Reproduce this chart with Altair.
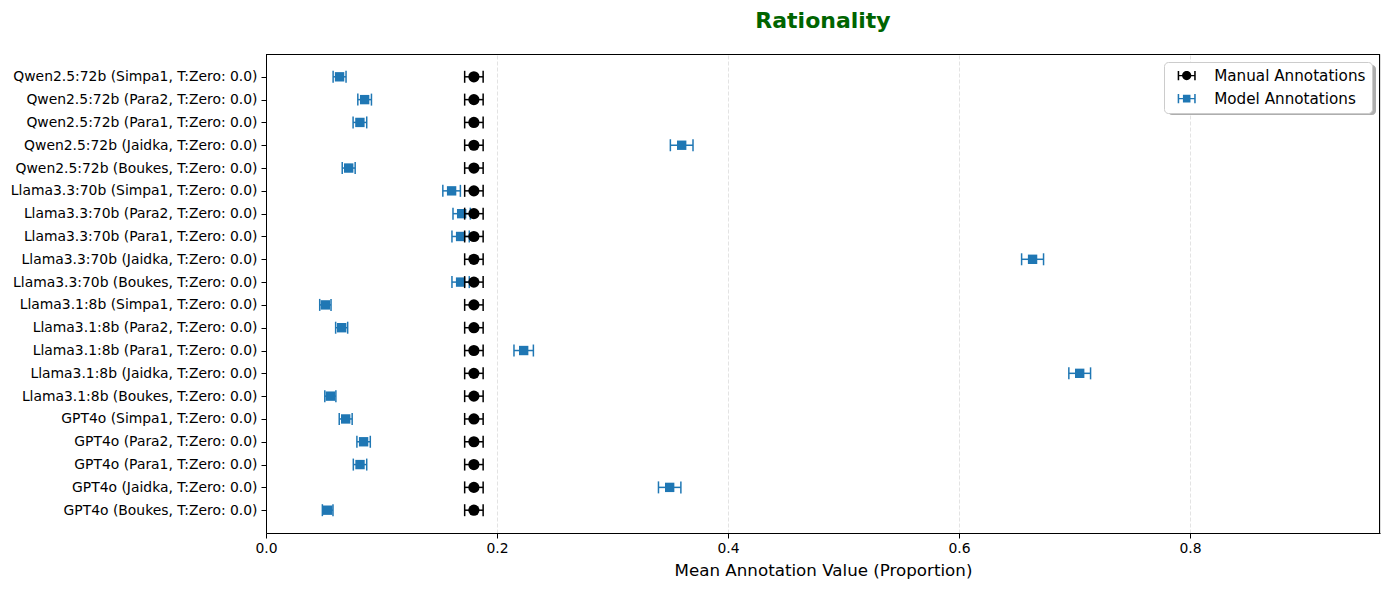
import altair as alt
import pandas as pd

labels = [
    "Qwen2.5:72b (Simpa1, T:Zero: 0.0)",
    "Qwen2.5:72b (Para2, T:Zero: 0.0)",
    "Qwen2.5:72b (Para1, T:Zero: 0.0)",
    "Qwen2.5:72b (Jaidka, T:Zero: 0.0)",
    "Qwen2.5:72b (Boukes, T:Zero: 0.0)",
    "Llama3.3:70b (Simpa1, T:Zero: 0.0)",
    "Llama3.3:70b (Para2, T:Zero: 0.0)",
    "Llama3.3:70b (Para1, T:Zero: 0.0)",
    "Llama3.3:70b (Jaidka, T:Zero: 0.0)",
    "Llama3.3:70b (Boukes, T:Zero: 0.0)",
    "Llama3.1:8b (Simpa1, T:Zero: 0.0)",
    "Llama3.1:8b (Para2, T:Zero: 0.0)",
    "Llama3.1:8b (Para1, T:Zero: 0.0)",
    "Llama3.1:8b (Jaidka, T:Zero: 0.0)",
    "Llama3.1:8b (Boukes, T:Zero: 0.0)",
    "GPT4o (Simpa1, T:Zero: 0.0)",
    "GPT4o (Para2, T:Zero: 0.0)",
    "GPT4o (Para1, T:Zero: 0.0)",
    "GPT4o (Jaidka, T:Zero: 0.0)",
    "GPT4o (Boukes, T:Zero: 0.0)",
]
model_mean = [0.0637, 0.0854, 0.0813, 0.3599, 0.0716,
              0.1607, 0.1694, 0.1685, 0.6637, 0.1685,
              0.0514, 0.0655, 0.2231, 0.7045, 0.0557,
              0.0690, 0.0845, 0.0814, 0.3495, 0.0534]
model_err = [0.0056, 0.0059, 0.0059, 0.0098, 0.0056,
             0.0076, 0.0075, 0.0075, 0.0095, 0.0075,
             0.0049, 0.0052, 0.0084, 0.0094, 0.0048,
             0.0056, 0.0058, 0.0058, 0.0097, 0.0046]
manual_mean = [0.18, 0.18, 0.18, 0.18, 0.18,
               0.18, 0.18, 0.18, 0.18, 0.18,
               0.18, 0.18, 0.18, 0.18, 0.18,
               0.18, 0.18, 0.18, 0.18, 0.18]
manual_err = [0.008, 0.008, 0.008, 0.008, 0.008,
              0.008, 0.008, 0.008, 0.008, 0.008,
              0.008, 0.008, 0.008, 0.008, 0.008,
              0.008, 0.008, 0.008, 0.008, 0.008]
series_names = ["Manual Annotations", "Model Annotations"]
series_colors = ["#000000", "#1f77b4"]
x_ticks = [0.0, 0.2, 0.4, 0.6, 0.8]

FONT = "DejaVu Sans"
BLUE = series_colors[1]
W, H = 1114, 479

model_df = pd.DataFrame({
    "label": labels,
    "mean": model_mean,
    "lo": [m - e for m, e in zip(model_mean, model_err)],
    "hi": [m + e for m, e in zip(model_mean, model_err)],
})
manual_df = pd.DataFrame({
    "label": labels,
    "mean": manual_mean,
    "lo": [m - e for m, e in zip(manual_mean, manual_err)],
    "hi": [m + e for m, e in zip(manual_mean, manual_err)],
})
legend_df = pd.DataFrame({"series": series_names, "mean": [manual_mean[0], manual_mean[0]]})
one_row = pd.DataFrame({"k": [0]})

y_enc = alt.Y("label:N", sort=labels, title=None,
              scale=alt.Scale(type="point", padding=1.0),
              axis=alt.Axis(labelFont=FONT, labelFontSize=13.9, labelColor="black",
                            labelLimit=0, tickColor="black", tickSize=5, labelPadding=4,
                            domainColor="black", grid=False))
x_scale = alt.Scale(domain=[0, 0.9645], nice=False, zero=False)
x_axis = alt.Axis(values=x_ticks, format=".1f", labelFont=FONT, labelFontSize=13.9,
                  labelColor="black", labelFlush=False, tickColor="black", tickSize=5,
                  labelPadding=3, domainColor="black", grid=True, gridColor="#dcdcdc",
                  gridDash=[4, 2], gridWidth=0.8,
                  title="Mean Annotation Value (Proportion)", titleFont=FONT,
                  titleFontSize=16.7, titleFontWeight="normal", titleColor="black",
                  titlePadding=8)


def errbar_layers(df, color, shape, size):
    base = alt.Chart(df)
    rule = base.mark_rule(color=color, strokeWidth=1.5).encode(
        x=alt.X("lo:Q", scale=x_scale, axis=x_axis), x2="hi:Q", y=y_enc)
    caps = base.transform_fold(["lo", "hi"], as_=["end", "xv"]).mark_tick(
        color=color, thickness=1.5, size=12, orient="vertical", opacity=1).encode(
        x=alt.X("xv:Q", scale=x_scale, axis=x_axis), y=y_enc)
    pts = base.mark_point(shape=shape, filled=True, size=size, color=color, opacity=1).encode(
        x=alt.X("mean:Q", scale=x_scale, axis=x_axis), y=y_enc)
    return [rule, caps, pts]


# legend glyphs (marker + bar + caps), unit = 7 px, centred 1.3 units right
manual_path = ("M0.01,-0.1 H2.59 V0.1 H0.01 Z "
               "M0.01,-0.67 H0.23 V0.67 H0.01 Z "
               "M2.37,-0.67 H2.59 V0.67 H2.37 Z "
               "M1.96,0 A0.66,0.66 0 1,1 0.64,0 A0.66,0.66 0 1,1 1.96,0 Z")
model_path = ("M0.01,-0.1 H2.59 V0.1 H0.01 Z "
              "M0.01,-0.67 H0.23 V0.67 H0.01 Z "
              "M2.37,-0.67 H2.59 V0.67 H2.37 Z "
              "M0.76,-0.54 H1.84 V0.54 H0.76 Z")

# legend-only layer: its rows are filtered out, the legend comes from the explicit domain
legend_layer = alt.Chart(legend_df).transform_filter("false").mark_point(
    filled=True, opacity=1, size=196).encode(
    x=alt.X("mean:Q", scale=x_scale, axis=x_axis),
    color=alt.Color("series:N", scale=alt.Scale(domain=series_names, range=series_colors),
                    legend=alt.Legend(title=None, orient="top-right", offset=8,
                                      symbolOpacity=1, symbolSize=196, symbolStrokeWidth=0,
                                      labelFont=FONT, labelFontSize=15.2, labelColor="black",
                                      labelOffset=29, rowPadding=7, padding=6,
                                      fillColor="white", strokeColor="#cccccc",
                                      cornerRadius=4)),
    shape=alt.Shape("series:N", scale=alt.Scale(domain=series_names,
                                                 range=[manual_path, model_path])),
)

# legend drop shadow (decoration, sits under the legend box)
shadow = alt.Chart(one_row).mark_rect(color="#9a9a9a", opacity=0.8, cornerRadius=4).encode(
    x=alt.value(902), x2=alt.value(1110), y=alt.value(11), y2=alt.value(61))

# crisp top / right frame lines
frame_top = alt.Chart(one_row).mark_rule(color="black", strokeWidth=1).encode(
    x=alt.value(0), x2=alt.value(W), y=alt.value(0.5))
frame_right = alt.Chart(one_row).mark_rule(color="black", strokeWidth=1).encode(
    x=alt.value(W - 0.5), y=alt.value(0), y2=alt.value(H))

layers = ([shadow]
          + errbar_layers(model_df, BLUE, "square", 88)
          + errbar_layers(manual_df, "#000000", "circle", 125)
          + [frame_top, frame_right, legend_layer])

chart = alt.layer(*layers).properties(
    width=W, height=H,
    title=alt.TitleParams("Rationality", font=FONT, fontSize=22, fontWeight="bold",
                          color="#006400", anchor="middle", baseline="alphabetic",
                          offset=4),
    autosize=alt.AutoSizeParams(type="none"),
    padding={"left": 258, "top": 46, "right": 1, "bottom": 48},
).configure_view(strokeWidth=0).configure(background="white")

chart.save("out.html", embed_options={"renderer": "svg", "actions": False})
